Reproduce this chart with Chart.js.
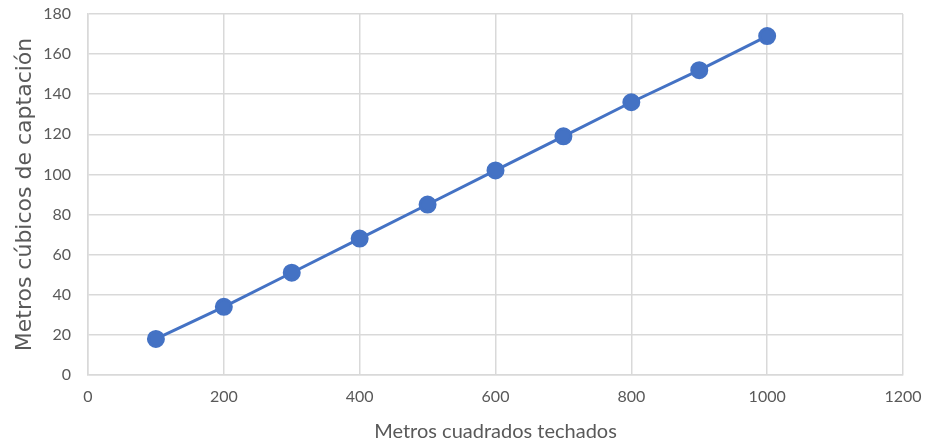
<!DOCTYPE html>
<html><head><meta charset="utf-8">
<script src="https://cdn.jsdelivr.net/npm/chart.js@4/dist/chart.umd.min.js"></script>
<style>html,body{margin:0;padding:0;background:#fff}#wrap{width:925px;height:445px}</style>
</head><body><div id="wrap"><canvas id="c" width="925" height="445"></canvas></div>
<script>
const xValues = [100, 200, 300, 400, 500, 600, 700, 800, 900, 1000];
const yValues = [18, 34, 51, 68, 85, 102, 119, 136, 152, 169];
const xTitle = 'Metros cuadrados techados';
const yTitle = 'Metros cúbicos de captación';
const color = '#4472C4';
const fontFam = 'Lato, "Open Sans", sans-serif';

new Chart(document.getElementById('c'), {
  type: 'scatter',
  data: { datasets: [{
    data: xValues.map((x, i) => ({x, y: yValues[i]})),
    showLine: true, borderColor: color, backgroundColor: color,
    borderWidth: 3, pointRadius: 7.5, pointHoverRadius: 7.5
  }]},
  options: {
    responsive: false, animation: false,
    layout: { padding: { left: 12, right: 22, top: 14, bottom: 1 } },
    plugins: { legend: { display: false }, tooltip: { enabled: false } },
    scales: {
      x: { min: 0, max: 1200,
        afterFit: s => { s.height = 69; s.paddingLeft = 0; s.paddingRight = 0; },
        ticks: { stepSize: 200, color: '#595959', font: { family: fontFam, size: 16 }, padding: 12, maxRotation: 0, callback: v => String(v) },
        grid: { color: '#d9d9d9', lineWidth: 1.5, drawTicks: false },
        border: { color: '#d9d9d9', width: 1.5 },
        title: { display: true, text: xTitle, color: '#595959', font: { family: fontFam, size: 20 }, padding: { top: 1, bottom: 0 } }
      },
      y: { min: 0, max: 180,
        afterFit: s => { s.width = 76; s.paddingTop = 0; s.paddingBottom = 0; },
        ticks: { stepSize: 20, color: '#595959', font: { family: fontFam, size: 16 }, padding: 17, callback: v => String(v) },
        grid: { color: '#d9d9d9', lineWidth: 1.5, drawTicks: false },
        border: { color: '#d9d9d9', width: 1.5 },
        title: { display: true, text: yTitle, color: '#595959', font: { family: '"DejaVu Sans", sans-serif', size: 22 }, padding: { top: 0, bottom: 0 } }
      }
    }
  }
});
</script></body></html>
